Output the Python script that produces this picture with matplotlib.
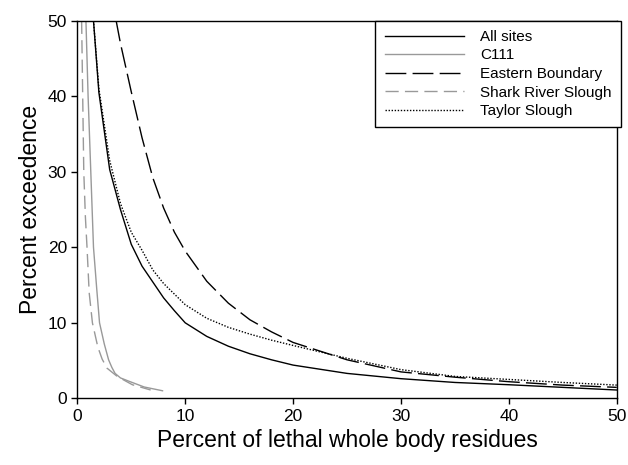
import matplotlib
matplotlib.use('Agg')
import matplotlib.pyplot as plt

plt.rcParams['font.family'] = ['Liberation Sans', 'DejaVu Sans']

# Curvas (x = % de resíduos letais, y = % de excedência)
todos_x = [1.5, 2, 3, 4, 5, 6, 7, 8, 9, 10, 12, 14, 16, 18, 20, 25, 30, 35, 40, 45, 50]
todos_y = [50, 40.5, 30.3, 25, 20.4, 17.5, 15.4, 13.3, 11.6, 10, 8.2, 6.9, 5.9, 5.1, 4.4, 3.3, 2.6, 2.1, 1.8, 1.45, 1.1]

c111_x = [0.8, 1.0, 1.25, 1.5, 1.8, 2.06, 2.5, 2.9, 3.2, 3.5, 4.0, 4.9, 6.2, 7.9]
c111_y = [50, 40, 30, 20, 14.5, 10, 7.2, 5.1, 4.1, 3.3, 2.7, 2.2, 1.5, 1.0]

leste_x = [3.6, 4, 5, 6, 7, 8, 9, 10, 12, 14, 16, 18, 20, 25, 30, 35, 40, 45, 50]
leste_y = [50, 47, 40.6, 34.5, 29.2, 25.2, 22, 19.5, 15.5, 12.6, 10.4, 8.8, 7.4, 5.1, 3.5, 2.8, 2.2, 1.75, 1.45]

shark_x = [0.4, 0.5, 0.6, 0.75, 0.9, 1.1, 1.4, 1.9, 2.3, 2.75, 3.7, 5.1, 6.8]
shark_y = [50, 40, 30, 24, 20, 14, 10, 6.8, 5.2, 4.0, 2.9, 1.8, 1.1]

taylor_x = [1.5, 2, 3, 4, 5, 6, 7, 8, 9, 10, 12, 14, 16, 18, 20, 25, 30, 35, 40, 45, 50]
taylor_y = [50, 41, 31.5, 25.8, 22, 19.6, 17, 15.2, 13.8, 12.4, 10.6, 9.4, 8.5, 7.7, 7.0, 5.3, 3.8, 2.9, 2.5, 2.1, 1.75]

ticks = [0, 10, 20, 30, 40, 50]
cinza = '#999999'

fig = plt.figure(figsize=(6.28, 4.65), dpi=100)
ax = fig.add_axes([0.1231, 0.1434, 0.859, 0.812])

ax.plot(todos_x, todos_y, color='black', lw=1.0, label='All sites')
ax.plot(c111_x, c111_y, color=cinza, lw=1.0, label='C111')
ax.plot(leste_x, leste_y, color='black', lw=1.0, dashes=(15, 4.5), label='Eastern Boundary')
ax.plot(shark_x, shark_y, color=cinza, lw=1.0, dashes=(9.5, 4.5), label='Shark River Slough')
ax.plot(taylor_x, taylor_y, color='black', lw=1.0, linestyle=(0, (1, 1.2)), label='Taylor Slough')

ax.set_xlim(0, 50)
ax.set_ylim(0, 50)
ax.set_xticks(ticks)
ax.set_yticks(ticks)
ax.tick_params(direction='out', length=4, width=1, labelsize=12.5)
for s in ax.spines.values():
    s.set_linewidth(1.0)

ax.set_xlabel('Percent of lethal whole body residues', fontsize=16.5)
ax.set_ylabel('Percent exceedence', fontsize=16.5)

leg = ax.legend(loc='upper right', bbox_to_anchor=(1.0075, 1.0), borderaxespad=0,
                handlelength=5.2, handletextpad=1.05, fontsize=11,
                fancybox=False, edgecolor='black', framealpha=1, labelspacing=0.3,
                borderpad=0.6)
leg.get_frame().set_linewidth(1.0)

plt.savefig('out.png', dpi=100)
